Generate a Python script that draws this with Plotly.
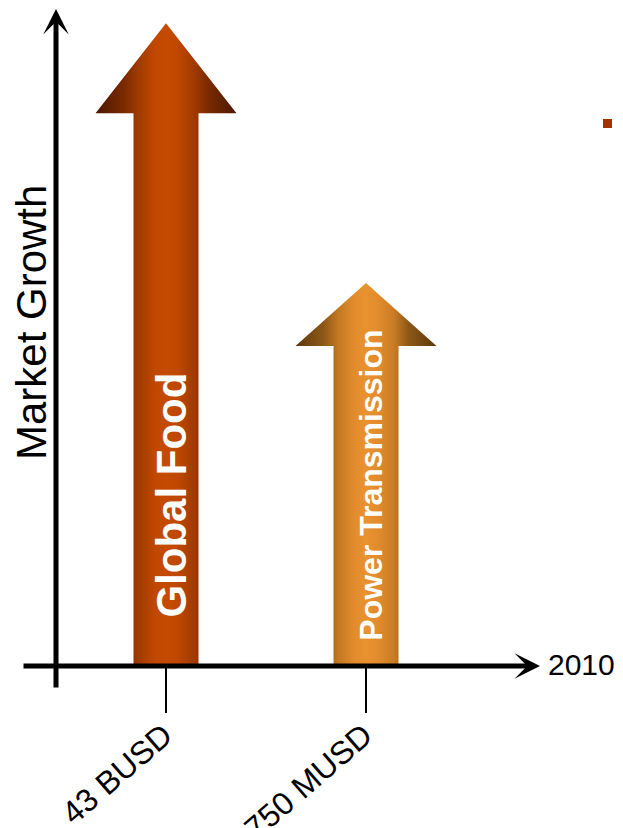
import plotly.graph_objects as go

# ---- data ----
categories = ["43 BUSD", "750 MUSD"]
series_names = ["Global Food", "Power Transmission"]
growth = [97.7, 58.2]          # market growth (arbitrary index units)
axis_x_label = "2010"
axis_y_label = "Market Growth"

# ---- style ----
OFF = 8                         # page body offset of the figure
W, H = 623 - OFF, 828 - OFF
PLOT_H = 658
MARGIN_B = H - PLOT_H
X_RANGE = [-0.79, -0.79 + W / 200]
Y_RANGE = [0, 100]
SHAFT_HALF = 0.1625
HEAD_HALF = 0.3525
HEAD_LEN = [13.7, 9.57]
FONT = "Liberation Sans, Arial, sans-serif"

scales = [
    [[0, "#4a1800"], [0.2, "#7a2a00"], [0.3, "#9e3a00"], [0.42, "#c04800"],
     [0.5, "#c44a00"], [0.58, "#c04800"], [0.7, "#a03a00"], [0.8, "#7a2a00"], [1, "#4a1800"]],
    [[0, "#5a380c"], [0.2, "#8e5816"], [0.3, "#c27822"], [0.42, "#e38c2e"],
     [0.5, "#e8922f"], [0.58, "#e38c2e"], [0.7, "#c87c24"], [0.8, "#8e5816"], [1, "#5a380c"]],
]
text_sizes = [42, 32]
text_y = [25.9, 27.4]
text_xshift = [6, 5]

fig = go.Figure()

for i, (name, v) in enumerate(zip(series_names, growth)):
    hl = HEAD_LEN[i]
    xs = [i - SHAFT_HALF, i - SHAFT_HALF, i - HEAD_HALF, i, i + HEAD_HALF,
          i + SHAFT_HALF, i + SHAFT_HALF, i - SHAFT_HALF]
    ys = [0, v - hl, v - hl, v, v - hl, v - hl, 0, 0]
    fig.add_trace(go.Scatter(
        x=xs, y=ys, mode="lines", fill="toself", name=name,
        line=dict(width=0, color="rgba(0,0,0,0)"),
        fillgradient=dict(type="horizontal", colorscale=scales[i],
                          start=i - HEAD_HALF, stop=i + HEAD_HALF),
        hoverinfo="skip", showlegend=False,
    ))
    fig.add_annotation(
        x=i, y=text_y[i], xref="x", yref="y", text=f"<b>{name}</b>",
        textangle=-90, showarrow=False, xshift=text_xshift[i],
        font=dict(family=FONT, size=text_sizes[i], color="white"),
    )

def px_x(p):
    return (p - OFF) / W

def px_y(p):
    return (PLOT_H - (p - OFF)) / PLOT_H

# y axis arrow
fig.add_annotation(
    x=px_x(56), y=px_y(8), xref="paper", yref="paper", text="",
    showarrow=True, ax=0, ay=689 - 8, axref="pixel", ayref="pixel",
    arrowhead=3, arrowsize=0.85, arrowwidth=5, arrowcolor="black", standoff=0,
)
# x axis arrow
fig.add_annotation(
    x=px_x(540), y=px_y(666), xref="paper", yref="paper", text="",
    showarrow=True, ax=-(540 - 22), ay=0, axref="pixel", ayref="pixel",
    arrowhead=3, arrowsize=0.85, arrowwidth=5, arrowcolor="black", standoff=0,
)
fig.add_annotation(
    x=px_x(546), y=px_y(664), xref="paper", yref="paper", text=axis_x_label,
    showarrow=False, xanchor="left", yanchor="middle",
    font=dict(family=FONT, size=30, color="black"),
)
fig.add_annotation(
    x=px_x(31), y=px_y(323), xref="paper", yref="paper", text=axis_y_label,
    showarrow=False, textangle=-90, xanchor="center", yanchor="middle",
    font=dict(family=FONT, size=42, color="black"),
)

# small legend-like marker
fig.add_shape(type="rect", xref="paper", yref="paper",
              x0=px_x(603), x1=px_x(612), y0=px_y(128), y1=px_y(119),
              fillcolor="#a53000", line=dict(width=0))

fig.update_layout(
    width=W, height=H,
    margin=dict(l=0, r=0, t=0, b=MARGIN_B, pad=0),
    paper_bgcolor="white", plot_bgcolor="white",
    showlegend=False, hovermode=False,
    xaxis=dict(range=X_RANGE, tickvals=list(range(len(categories))), ticktext=categories,
               ticks="outside", ticklen=46, tickwidth=1.5, tickcolor="black",
               tickangle=-41, tickfont=dict(family=FONT, size=32, color="black"),
               ticklabelstandoff=-9, ticklabelshift=-2,
               showgrid=False, zeroline=False, showline=False, fixedrange=True,
               automargin=False),
    yaxis=dict(range=Y_RANGE, visible=False, fixedrange=True, automargin=False),
)

fig.write_html("out.html", config={"displayModeBar": False})
